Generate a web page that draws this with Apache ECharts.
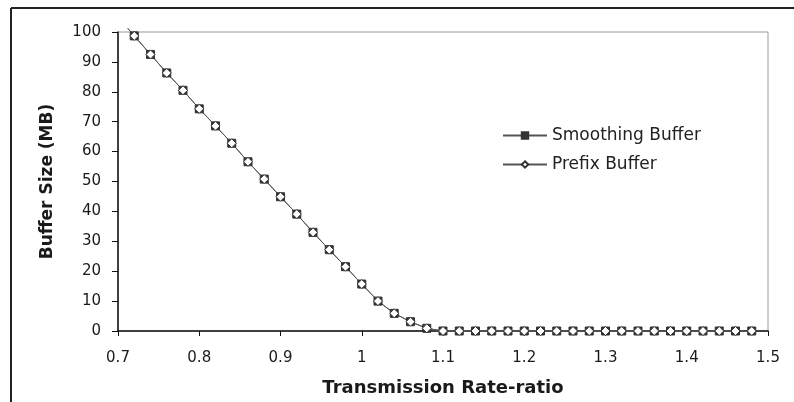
<!DOCTYPE html>
<html>
<head>
<meta charset="utf-8">
<script src="https://cdn.jsdelivr.net/npm/echarts@6/dist/echarts.min.js"></script>
<style>html,body{margin:0;padding:0;background:#fff;}#c{width:794px;height:402px;}</style>
</head>
<body>
<div id="c"></div>
<script>
var xValues = [0.72,0.74,0.76,0.78,0.80,0.82,0.84,0.86,0.88,0.90,0.92,0.94,0.96,0.98,1.00,1.02,1.04,1.06,1.08,1.10,1.12,1.14,1.16,1.18,1.20,1.22,1.24,1.26,1.28,1.30,1.32,1.34,1.36,1.38,1.40,1.42,1.44,1.46,1.48];
var smoothingBuffer = [98.7,92.5,86.3,80.5,74.3,68.6,62.8,56.6,50.8,44.9,39.1,33.0,27.2,21.5,15.7,10.0,5.9,3.1,0.9,0,0,0,0,0,0,0,0,0,0,0,0,0,0,0,0,0,0,0,0];
var prefixBuffer = [98.7,92.5,86.3,80.5,74.3,68.6,62.8,56.6,50.8,44.9,39.1,33.0,27.2,21.5,15.7,10.0,5.9,3.1,0.9,0,0,0,0,0,0,0,0,0,0,0,0,0,0,0,0,0,0,0,0];
var lineStart = [0.712, 101.2];
var seriesNames = ['Smoothing Buffer','Prefix Buffer'];
var xTitle = 'Transmission Rate-ratio';
var yTitle = 'Buffer Size (MB)';

function pairs(vals){
  var out = [{value: lineStart, symbol: 'none'}];
  for (var i = 0; i < xValues.length; i++) out.push([xValues[i], vals[i]]);
  return out;
}

var chart = echarts.init(document.getElementById('c'), null, {renderer:'canvas'});
var font = 'DejaVu Sans';
chart.setOption({
  animation: false,
  backgroundColor: '#fff',
  graphic: [
    {type:'line', shape:{x1:11, y1:8, x2:794, y2:8}, style:{stroke:'#222', lineWidth:2}},
    {type:'line', shape:{x1:11, y1:8, x2:11, y2:402}, style:{stroke:'#222', lineWidth:2}}
  ],
  grid: {left:118, top:32, right:26, bottom:71, show:true, borderColor:'#9a9a9a', borderWidth:1, backgroundColor:'transparent'},
  legend: {
    orient:'vertical', left:497, top:122, itemWidth:44, itemHeight:8, itemGap:12,
    textStyle:{fontFamily:font, fontSize:17, color:'#222'},
    data: seriesNames
  },
  xAxis: {
    type:'value', min:0.7, max:1.5, interval:0.1,
    name: xTitle, nameLocation:'middle', nameGap:48,
    nameTextStyle:{fontFamily:font, fontSize:18, fontWeight:'bold', color:'#1a1a1a'},
    axisLine:{show:true, onZero:false, lineStyle:{color:'#111', width:1.5}},
    axisTick:{show:true, length:5, lineStyle:{color:'#111'}},
    axisLabel:{fontFamily:font, fontSize:15, color:'#1a1a1a', margin:20, formatter:function(v){return String(Math.round(v*10)/10);}},
    splitLine:{show:false}
  },
  yAxis: {
    type:'value', min:0, max:100, interval:10,
    name: yTitle, nameLocation:'middle', nameGap:62,
    nameTextStyle:{fontFamily:font, fontSize:17, fontWeight:'bold', color:'#1a1a1a'},
    axisLine:{show:true, lineStyle:{color:'#111', width:1.5}},
    axisTick:{show:true, length:6, lineStyle:{color:'#111'}},
    axisLabel:{fontFamily:font, fontSize:15, color:'#1a1a1a', margin:17},
    splitLine:{show:false}
  },
  series: [
    {
      name: seriesNames[0], type:'line', data: pairs(smoothingBuffer), clip:false,
      symbol:'rect', symbolSize:8, showAllSymbol:true,
      lineStyle:{color:'#555', width:1},
      itemStyle:{color:'#333', borderColor:'#333', borderWidth:1}
    },
    {
      name: seriesNames[1], type:'line', data: pairs(prefixBuffer), clip:false,
      symbol:'diamond', symbolSize:9, showAllSymbol:true,
      lineStyle:{color:'#555', width:1},
      itemStyle:{color:'#fff', borderColor:'#333', borderWidth:1}
    }
  ]
});
</script>
</body>
</html>
